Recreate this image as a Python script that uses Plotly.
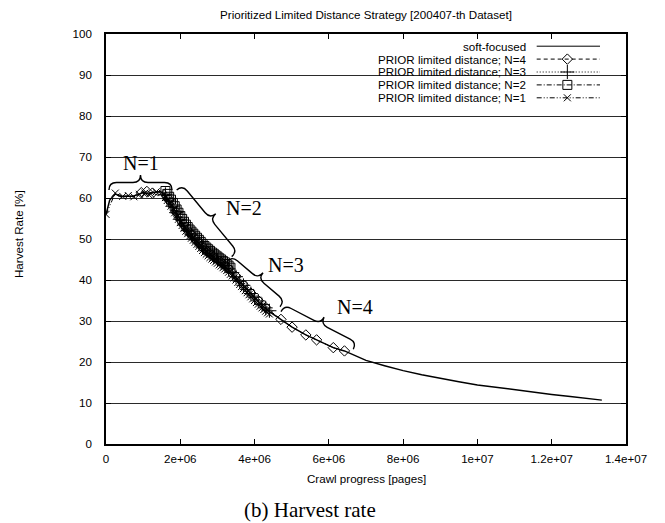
import plotly.graph_objects as go

# ---------------- data ----------------
soft_x = [0, 1.0e5, 2.5e5, 4.0e5, 5.5e5, 7.0e5, 8.5e5, 1.0e6, 1.15e6, 1.3e6, 1.45e6, 1.55e6,
          1.75e6, 1.95e6, 2.15e6, 2.35e6, 2.55e6, 2.75e6, 2.95e6, 3.15e6, 3.35e6, 3.55e6, 3.75e6,
          3.95e6, 4.15e6, 4.35e6, 4.71e6, 5.01e6, 5.38e6, 5.67e6, 6.12e6, 6.42e6, 6.75e6, 7.0e6,
          7.5e6, 8.0e6, 8.5e6, 9.0e6, 9.5e6, 1.0e7, 1.05e7, 1.1e7, 1.15e7, 1.2e7, 1.25e7, 1.3e7, 1.335e7]
soft_y = [56.0, 59.5, 61.0, 60.3, 60.5, 60.4, 60.8, 61.3, 61.0, 61.4, 61.6, 61.2,
          58.6, 55.4, 52.5, 50.3, 48.3, 46.5, 45.0, 43.6, 42.0, 40.0, 38.0,
          36.0, 34.2, 32.6, 30.4, 28.5, 26.6, 25.4, 23.5, 22.7, 21.5, 20.4,
          19.1, 17.9, 16.9, 16.0, 15.2, 14.4, 13.8, 13.2, 12.6, 12.1, 11.6, 11.1, 10.7]

n4_x = [9.5e5, 1.1e6, 1.25e6, 1.7e6, 1.9e6, 2.1e6, 2.3e6, 2.5e6, 2.7e6, 2.9e6, 3.1e6, 3.3e6,
        3.5e6, 3.7e6, 3.9e6, 4.1e6, 4.3e6, 4.71e6, 5.01e6, 5.38e6, 5.67e6, 6.12e6, 6.42e6]
n4_y = [61.3, 61.6, 61.2, 59.6, 56.5, 53.5, 51.1, 49.1, 47.2, 45.7, 44.3, 42.8,
        40.9, 38.8, 36.8, 35.0, 33.3, 30.4, 28.5, 26.6, 25.4, 23.5, 22.7]

n3_x = [1.6e6, 1.7e6, 1.8e6, 1.9e6, 2.0e6, 2.1e6, 2.2e6, 2.3e6, 2.4e6, 2.5e6, 2.6e6, 2.7e6,
        2.8e6, 2.9e6, 3.0e6, 3.1e6, 3.2e6, 3.3e6, 3.4e6, 3.5e6, 3.6e6, 3.7e6, 3.8e6, 3.9e6,
        4.0e6, 4.1e6, 4.2e6, 4.3e6, 4.4e6]
n3_y = [60.9, 59.5, 58.0, 56.4, 54.8, 53.4, 52.1, 51.0, 50.0, 49.0, 48.0, 47.1,
        46.3, 45.6, 44.9, 44.2, 43.5, 42.7, 41.8, 40.8, 39.7, 38.7, 37.7, 36.7,
        35.8, 34.9, 34.0, 33.2, 32.5]

n2_x = [1.60e6, 1.65e6, 1.70e6, 1.75e6, 1.80e6, 1.85e6, 1.90e6, 1.95e6, 2.00e6, 2.05e6,
        2.10e6, 2.15e6, 2.20e6, 2.25e6, 2.30e6, 2.35e6, 2.40e6, 2.45e6, 2.50e6, 2.55e6,
        2.60e6, 2.65e6, 2.70e6, 2.75e6, 2.80e6, 2.85e6, 2.90e6, 2.95e6, 3.00e6, 3.05e6,
        3.10e6, 3.15e6, 3.20e6, 3.25e6, 3.30e6, 3.35e6]
n2_y = [61.7, 61.0, 60.3, 59.6, 58.8, 58.0, 57.2, 56.4, 55.6, 54.9,
        54.2, 53.5, 52.9, 52.3, 51.8, 51.3, 50.8, 50.3, 49.8, 49.3,
        48.8, 48.3, 47.9, 47.5, 47.1, 46.7, 46.4, 46.0, 45.7, 45.3,
        45.0, 44.6, 44.3, 43.9, 43.5, 43.0]

n1_x = [0, 2.5e5, 4.5e5, 6.0e5, 7.5e5, 9.0e5, 1.05e6, 1.2e6, 1.35e6, 1.5e6,
        1.60e6, 1.65e6, 1.70e6, 1.75e6, 1.80e6, 1.85e6, 1.90e6, 1.95e6, 2.00e6, 2.05e6,
        2.10e6, 2.15e6, 2.20e6, 2.25e6, 2.30e6, 2.35e6, 2.40e6, 2.45e6, 2.50e6, 2.55e6,
        2.60e6, 2.65e6, 2.70e6, 2.75e6, 2.80e6, 2.85e6, 2.90e6, 2.95e6, 3.00e6, 3.05e6,
        3.10e6, 3.15e6, 3.20e6, 3.25e6, 3.30e6, 3.35e6, 3.40e6, 3.45e6, 3.50e6, 3.55e6,
        3.60e6, 3.65e6, 3.70e6, 3.75e6, 3.80e6, 3.85e6, 3.90e6, 3.95e6, 4.00e6, 4.05e6,
        4.10e6, 4.15e6, 4.20e6, 4.25e6, 4.30e6, 4.35e6, 4.40e6]
n1_y = [56.0, 61.2, 60.4, 60.6, 60.3, 60.9, 61.2, 61.0, 61.5, 61.3,
        60.1, 59.4, 58.7, 58.0, 57.2, 56.4, 55.6, 54.8, 54.0, 53.3,
        52.6, 51.9, 51.3, 50.7, 50.2, 49.7, 49.2, 48.7, 48.2, 47.7,
        47.2, 46.7, 46.3, 45.9, 45.5, 45.1, 44.8, 44.4, 44.1, 43.7,
        43.4, 43.0, 42.7, 42.3, 41.9, 41.4, 41.0, 40.5, 40.0, 39.4,
        38.9, 38.4, 37.9, 37.4, 36.9, 36.4, 35.9, 35.4, 35.0, 34.5,
        34.1, 33.6, 33.2, 32.8, 32.4, 32.0, 31.7]

series_names = ["soft-focused", "PRIOR limited distance; N=4", "PRIOR limited distance; N=3",
                "PRIOR limited distance; N=2", "PRIOR limited distance; N=1"]

x_tickvals = [0, 2e6, 4e6, 6e6, 8e6, 1e7, 1.2e7, 1.4e7]
x_ticktext = ["0", "2e+06", "4e+06", "6e+06", "8e+06", "1e+07", "1.2e+07", "1.4e+07"]
y_tickvals = [0, 10, 20, 30, 40, 50, 60, 70, 80, 90, 100]

# brace annotations: (start point, end point, label position, label) in data units
braces = [
    ((0.08e6, 61.95), (1.777e6, 61.95), (0.942e6, 68.5), "N=1"),
    ((1.903e6, 61.95), (3.384e6, 45.7), (3.715e6, 57.5), "N=2"),
    ((3.250e6, 44.46), (4.685e6, 33.49), (4.833e6, 43.7), "N=3"),
    ((4.712e6, 32.27), (6.658e6, 23.1), (6.704e6, 33.3), "N=4"),
]

# ---------------- layout geometry ----------------
W, H = 665, 523
L, R, T, B = 106, 39, 34, 79
PW, PH = W - L - R, H - T - B
XMAX, YMAX = 1.4e7, 100.0

def d2p(x, y):
    return (L + x / XMAX * PW, T + PH - y / YMAX * PH)

def p2d(px, py):
    return ((px - L) / PW * XMAX, (T + PH - py) / PH * YMAX)

def brace_path(a, b, h=7.5):
    ax, ay = d2p(*a)
    bx, by = d2p(*b)
    dx, dy = bx - ax, by - ay
    ln = (dx * dx + dy * dy) ** 0.5
    ux, uy = dx / ln, dy / ln
    nx, ny = uy, -ux  # outward (upwards) normal
    mx, my = (ax + bx) / 2, (ay + by) / 2
    def P(px, py):
        x, y = p2d(px, py)
        return f"{x:.1f},{y:.4f}"
    s = "M " + P(ax, ay)
    s += " Q " + P(ax + nx * h, ay + ny * h) + " " + P(ax + ux * h + nx * h, ay + uy * h + ny * h)
    s += " L " + P(mx - ux * h + nx * h, my - uy * h + ny * h)
    s += " Q " + P(mx + nx * h, my + ny * h) + " " + P(mx + nx * 2 * h, my + ny * 2 * h)
    s += " Q " + P(mx + nx * h, my + ny * h) + " " + P(mx + ux * h + nx * h, my + uy * h + ny * h)
    s += " L " + P(bx - ux * h + nx * h, by - uy * h + ny * h)
    s += " Q " + P(bx + nx * h, by + ny * h) + " " + P(bx, by)
    return s

SANS = "Liberation Sans, Arial, sans-serif"
SERIF = "Liberation Serif, Times New Roman, serif"
FS = 11.6

styles = [
    dict(dash="solid", symbol=None, size=0, width=1.5),
    dict(dash="4px,3px", symbol="diamond-open", size=8, width=1),
    dict(dash="1px,2px", symbol="cross-thin-open", size=10, width=1),
    dict(dash="5px,2px,1px,2px", symbol="square-open", size=9, width=1),
    dict(dash="5px,2px,1px,2px,1px,2px", symbol="x-thin-open", size=7, width=1),
]
data_xy = [(soft_x, soft_y), (n4_x, n4_y), (n3_x, n3_y), (n2_x, n2_y), (n1_x, n1_y)]

fig = go.Figure()
for name, (xs, ys), st in zip(series_names, data_xy, styles):
    if st["symbol"] is None:
        fig.add_trace(go.Scatter(x=xs, y=ys, mode="lines", name=name, showlegend=False,
                                 line=dict(color="black", width=st["width"], dash=st["dash"])))
    else:
        fig.add_trace(go.Scatter(x=xs, y=ys, mode="lines+markers", name=name, showlegend=False,
                                 line=dict(color="black", width=st["width"], dash=st["dash"]),
                                 marker=dict(symbol=st["symbol"], size=st["size"], color="black",
                                             line=dict(color="black", width=1))))

# custom gnuplot-style key (text right, sample on right) drawn on a pixel-unit overlay axis
key_rows = [46.2 + 12.9 * i for i in range(len(series_names))]
key_text_right = 527.7
key_line = (536.7, 600.0)
for name, st, ry in zip(series_names, styles, key_rows):
    fig.add_trace(go.Scatter(x=[key_line[0], key_line[1]], y=[ry, ry], mode="lines",
                             xaxis="x2", yaxis="y2", showlegend=False, hoverinfo="skip",
                             line=dict(color="black", width=1, dash=st["dash"])))
    if st["symbol"] is not None:
        fig.add_trace(go.Scatter(x=[(key_line[0] + key_line[1]) / 2 - 1], y=[ry], mode="markers",
                                 xaxis="x2", yaxis="y2", showlegend=False, hoverinfo="skip",
                                 marker=dict(symbol=st["symbol"], size=st["size"], color="black",
                                             line=dict(color="black", width=1))))

annotations = []
for name, ry in zip(series_names, key_rows):
    annotations.append(dict(x=(key_text_right - L) / PW, y=(T + PH - ry) / PH, xref="paper", yref="paper",
                            text=name, showarrow=False, xanchor="right", yanchor="middle",
                            font=dict(family=SANS, size=FS, color="black")))

shapes = [dict(type="rect", xref="paper", yref="paper",
               x0=(162 - L) / PW, x1=(613 - L) / PW, y0=(T + PH - 105) / PH, y1=(T + PH - 38) / PH,
               fillcolor="white", line=dict(width=0), layer="between")]

for a, b, lab, txt in braces:
    shapes.append(dict(type="path", xref="x", yref="y", path=brace_path(a, b),
                       line=dict(color="black", width=1.4), layer="above"))
    annotations.append(dict(x=lab[0], y=lab[1], xref="x", yref="y", text=txt, showarrow=False,
                            xanchor="center", yanchor="middle",
                            font=dict(family=SERIF, size=20, color="black")))

# axis titles and caption
annotations.append(dict(x=(18 - L) / PW, y=(T + PH - 234) / PH, xref="paper", yref="paper",
                        text="Harvest Rate [%]", textangle=-90, showarrow=False,
                        xanchor="center", yanchor="middle", font=dict(family=SANS, size=FS, color="black")))
annotations.append(dict(x=(366.7 - L) / PW, y=(T + PH - 478) / PH, xref="paper", yref="paper",
                        text="Crawl progress [pages]", showarrow=False,
                        xanchor="center", yanchor="middle", font=dict(family=SANS, size=FS, color="black")))
annotations.append(dict(x=(310 - L) / PW, y=(T + PH - 510) / PH, xref="paper", yref="paper",
                        text="(b) Harvest rate", showarrow=False,
                        xanchor="center", yanchor="middle", font=dict(family=SERIF, size=21, color="black")))

fig.update_layout(
    width=W, height=H,
    margin=dict(l=L, r=R, t=T, b=B, pad=0),
    paper_bgcolor="white", plot_bgcolor="white",
    showlegend=False,
    title=dict(text="Prioritized Limited Distance Strategy [200407-th Dataset]",
               x=0.5, xref="paper", xanchor="center", y=1 - 15 / H, yref="container", yanchor="middle",
               font=dict(family=SANS, size=FS, color="black")),
    xaxis=dict(range=[0, XMAX], tickvals=x_tickvals, ticktext=x_ticktext, showgrid=False, zeroline=False,
               ticks="inside", ticklen=5, tickcolor="black", showline=True, linecolor="black", linewidth=1.5,
               mirror="ticks", ticklabelstandoff=3,
               tickfont=dict(family=SANS, size=FS, color="black")),
    yaxis=dict(range=[0, YMAX], tickvals=y_tickvals, showgrid=True, gridcolor="#2a2a2a", gridwidth=1,
               zeroline=False, ticks="inside", ticklen=5, tickcolor="black", showline=True,
               linecolor="black", linewidth=1.5, mirror="ticks", ticklabelstandoff=10,
               tickfont=dict(family=SANS, size=FS, color="black")),
    xaxis2=dict(range=[L, L + PW], overlaying="x", anchor="y2", visible=False),
    yaxis2=dict(range=[T + PH, T], overlaying="y", anchor="x2", visible=False),
    annotations=annotations,
    shapes=shapes,
)

fig.write_html("out.html")
